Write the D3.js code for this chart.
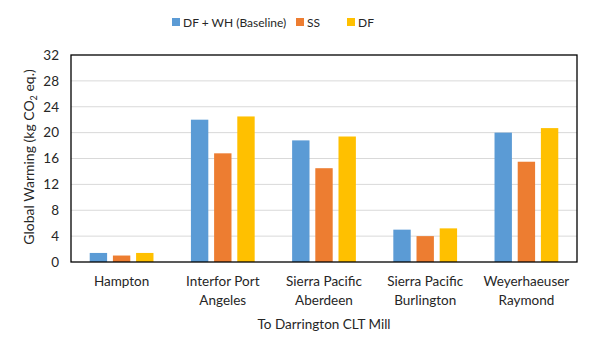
<!DOCTYPE html>
<html><head><meta charset="utf-8">
<script src="https://cdn.jsdelivr.net/npm/d3@7"></script>
<style>body{margin:0;background:#fff}svg{display:block}text{font-family:Lato,"Open Sans",sans-serif;fill:#262626}</style>
</head><body><svg id="c" width="603" height="353"></svg>
<script>
const categories = [["Hampton"],["Interfor Port","Angeles"],["Sierra Pacific","Aberdeen"],["Sierra Pacific","Burlington"],["Weyerhaeuser","Raymond"]];
const seriesNames = ["DF + WH (Baseline)","SS","DF"];
const baseline = [1.4, 22.0, 18.8, 5.0, 20.0];
const ss = [1.0, 16.8, 14.5, 4.0, 15.5];
const df = [1.4, 22.5, 19.4, 5.2, 20.7];
const yTicks = [0,4,8,12,16,20,24,28,32];
const colors = ["#5B9BD5","#ED7D31","#FFC000"];
const series = [baseline, ss, df];

const svg = d3.select("#c");
const m = {l:71, r:577, t:55, b:262};
const x = d3.scaleBand().domain(d3.range(categories.length)).range([m.l, m.r]).paddingInner(0.37).paddingOuter(0.185);
const xs = d3.scaleBand().domain(d3.range(3)).range([0, x.bandwidth()]).paddingInner(0.25);
const y = d3.scaleLinear().domain([0,32]).range([m.b, m.t]);

// grid
svg.append("g").selectAll("line").data(yTicks.slice(1,-1)).join("line")
  .attr("x1", m.l).attr("x2", m.r).attr("y1", d=>y(d)).attr("y2", d=>y(d))
  .attr("stroke", "#d9d9d9").attr("stroke-width", 1);

// bars
series.forEach((s, si) => {
  svg.append("g").selectAll("rect").data(s).join("rect")
    .attr("x", (d,i)=>x(i)+xs(si)).attr("width", xs.bandwidth())
    .attr("y", d=>y(d)).attr("height", d=>m.b - y(d))
    .attr("fill", colors[si]);
});

// frame
svg.append("rect").attr("x", m.l).attr("y", m.t).attr("width", m.r-m.l).attr("height", m.b-m.t)
  .attr("fill","none").attr("stroke","#000").attr("stroke-width",1.3);

// y axis
const ya = svg.append("g").attr("transform",`translate(${m.l},0)`)
  .call(d3.axisLeft(y).tickValues(yTicks).tickSize(0).tickPadding(12));
ya.select(".domain").remove();
ya.selectAll("text").style("font-size","13.5px").style("font-family","Lato,'Open Sans',sans-serif").attr("fill","#262626");

// x labels
const xl = svg.append("g");
categories.forEach((lines, i) => {
  const cx = x(i) + x.bandwidth()/2;
  lines.forEach((t, j) => {
    xl.append("text").attr("x", cx).attr("y", 286 + j*19).attr("text-anchor","middle")
      .style("font-size","13.5px").text(t);
  });
});

// x title
svg.append("text").attr("x", (m.l+m.r)/2).attr("y", 329).attr("text-anchor","middle")
  .style("font-size","13.5px").text("To Darrington CLT Mill");

// y title
const yt = svg.append("text").attr("transform","translate(34,157) rotate(-90)").attr("text-anchor","middle")
  .style("font-size","14px");
yt.append("tspan").text("Global Warming (kg CO");
yt.append("tspan").text("2").style("font-size","9px").attr("dy", 3);
yt.append("tspan").text(" eq.)").attr("dy", -3);

// legend
const legX = [172, 296, 347];
const lg = svg.append("g");
seriesNames.forEach((n, i) => {
  lg.append("rect").attr("x", legX[i]).attr("y", 18).attr("width", 8).attr("height", 8).attr("fill", colors[i]);
  lg.append("text").attr("x", legX[i]+11).attr("y", 26.5).style("font-size","12px").text(n);
});
</script></body></html>
